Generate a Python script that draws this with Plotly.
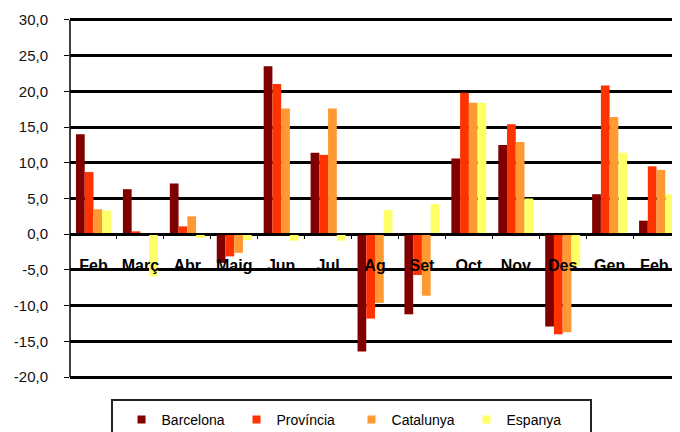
import plotly.graph_objects as go

months = ["Feb", "Març", "Abr", "Maig", "Jun", "Jul", "Ag", "Set", "Oct", "Nov", "Des", "Gen", "Feb "]
barcelona = [14.0, 6.3, 7.1, -4.0, 23.5, 11.4, -16.4, -11.2, 10.6, 12.5, -12.9, 5.6, 1.9]
provincia = [8.7, 0.4, 1.1, -3.1, 21.0, 11.1, -11.8, -5.7, 19.8, 15.4, -14.0, 20.8, 9.5]
catalunya = [3.5, 0.0, 2.5, -2.6, 17.6, 17.6, -9.6, -8.6, 18.4, 12.9, -13.7, 16.4, 9.0]
espanya = [3.3, -5.9, -0.5, -0.8, -0.9, -0.9, 3.4, 4.2, 18.4, 5.0, -4.5, 11.4, 5.6]

series_names = ["Barcelona", "Província", "Catalunya", "Espanya"]
series_values = [barcelona, provincia, catalunya, espanya]
series_colors = ["#800000", "#FF3300", "#FF9933", "#FFFF66"]

y_ticks = [30, 25, 20, 15, 10, 5, 0, -5, -10, -15, -20]
y_ticktext = [f"{v:.1f}".replace(".", ",") for v in y_ticks]

FONT = "Arial, Liberation Sans, sans-serif"

# page has an 8px body margin: figure is 672x424, plot area in page x 70..680, y 18..379
PT, PB = 18, 379
H = PB - PT


def py(page_y):
    return (PB - page_y) / H


fig = go.Figure()
for name, vals, col in zip(series_names, series_values, series_colors):
    fig.add_trace(go.Bar(x=months, y=vals, name=name, showlegend=False,
                         marker=dict(color=col, line=dict(width=0))))
# legend entries with small square keys
for name, col in zip(series_names, series_colors):
    fig.add_trace(go.Scatter(x=[None], y=[None], mode="markers", name=name,
                             marker=dict(symbol="square", size=8, color=col)))

fig.update_layout(
    width=672, height=424, autosize=False,
    margin=dict(l=62, r=0, t=PT - 8, b=424 - (PB - 8), autoexpand=False),
    paper_bgcolor="white", plot_bgcolor="white",
    barmode="group", bargap=0.255, bargroupgap=0,
    font=dict(family=FONT, color="black"),
    showlegend=True,
    legend=dict(orientation="h", x=0.4615, xanchor="center", y=py(404), yanchor="top",
                borderwidth=0, bgcolor="rgba(0,0,0,0)",
                font=dict(size=14, family=FONT, color="black"),
                entrywidth=70, entrywidthmode="pixels", itemwidth=30,
                traceorder="normal"),
    xaxis=dict(type="category", range=[-0.5, 12.5], anchor="free", position=20.25 / 50.5,
               showline=True, linecolor="black", linewidth=2,
               ticks="outside", tickson="boundaries", ticklen=4, tickcolor="black", tickwidth=1,
               tickfont=dict(size=16, family=FONT, color="black", weight="bold"),
               ticklabelstandoff=17, showgrid=False, zeroline=False, fixedrange=True),
    yaxis=dict(range=[-20.25, 30.25], tickvals=y_ticks, ticktext=y_ticktext,
               showgrid=True, gridcolor="black", gridwidth=2.5,
               zeroline=True, zerolinecolor="black", zerolinewidth=2.5,
               showline=False,
               ticks="outside", ticklen=5, tickcolor="black",
               tickfont=dict(size=15, family=FONT, color="#111111"),
               ticklabelstandoff=13, fixedrange=True),
    shapes=[
        # y axis line
        dict(type="line", xref="paper", yref="y", x0=0, x1=0, y0=-20, y1=30,
             line=dict(color="black", width=1.5)),
        # legend frame
        dict(type="rect", xref="paper", yref="paper",
             x0=(112 - 70) / 610, x1=(591 - 70) / 610,
             y0=py(400), y1=py(445),
             line=dict(color="#222222", width=2), fillcolor="rgba(0,0,0,0)", layer="below"),
    ],
)

fig.write_html("out.html")
